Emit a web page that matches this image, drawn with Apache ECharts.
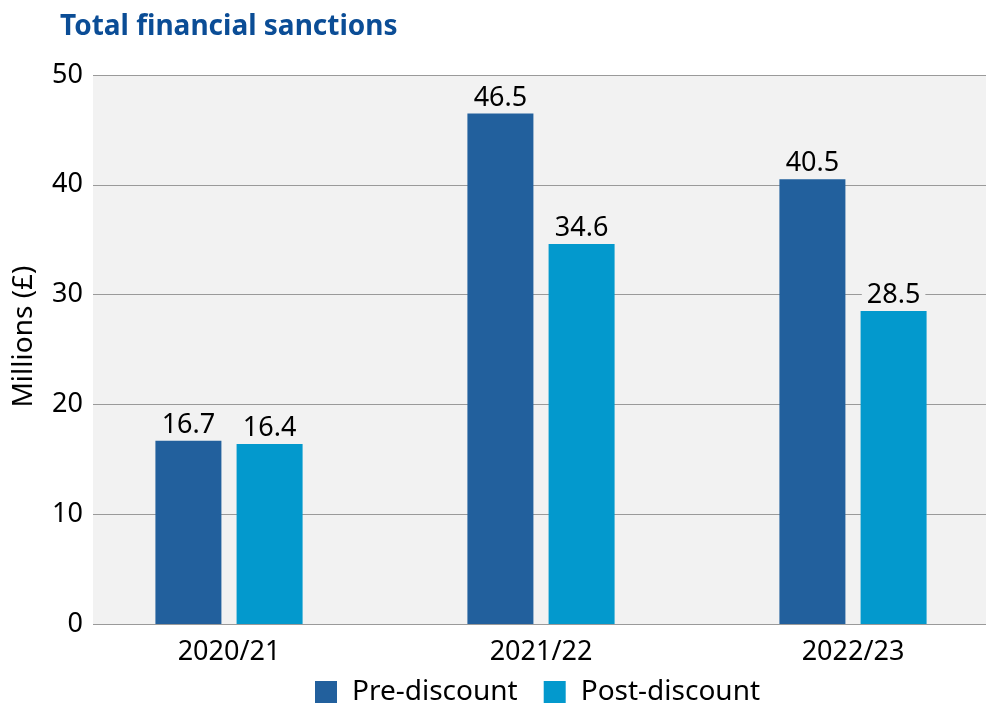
<!DOCTYPE html>
<html>
<head>
<meta charset="utf-8">
<script src="https://cdn.jsdelivr.net/npm/echarts@6/dist/echarts.min.js"></script>
<style>
  html, body { margin: 0; padding: 0; background: #fff; overflow: hidden; }
  #container { width: 986px; height: 703px; }
</style>
</head>
<body>
<div id="container"></div>
<script>
var years = ['2020/21', '2021/22', '2022/23'];
var preDiscount = [16.7, 46.5, 40.5];
var postDiscount = [16.4, 34.6, 28.5];
var yTicks = { min: 0, max: 50, interval: 10 };

var font = '"Noto Sans", "Open Sans", sans-serif';
var dom = document.getElementById('container');
var myChart = echarts.init(dom);

var barLabel = {
    show: true,
    position: 'top',
    distance: 2,
    color: '#000',
    fontFamily: font,
    fontSize: 27,
    backgroundColor: '#f2f2f2',
    padding: [0, 5, 0, 5]
};

var option = {
    backgroundColor: '#fff',
    textStyle: { fontFamily: font },
    title: {
        text: 'Total financial sanctions',
        left: 55,
        top: 8,
        textStyle: { color: '#0b4d96', fontSize: 28, fontWeight: 'bold', fontFamily: font }
    },
    legend: {
        bottom: -8,
        left: 310,
        itemWidth: 22,
        itemHeight: 22,
        itemGap: 26,
        icon: 'rect',
        textStyle: { color: '#000', fontSize: 28, fontFamily: font, padding: [0, 0, 0, 10] },
        data: ['Pre-discount', 'Post-discount']
    },
    grid: [
        // background + value gridlines, runs off the right edge
        { left: 93, width: 920, top: 75, height: 549, show: true, backgroundColor: '#f2f2f2', borderWidth: 0, outerBoundsMode: 'none' },
        // bars (categories spill slightly past the right edge like the original)
        { left: 73, width: 936, top: 75, height: 549, outerBoundsMode: 'none' }
    ],
    xAxis: [
        { gridIndex: 0, type: 'category', data: years, show: false },
        {
            gridIndex: 1,
            type: 'category',
            data: years,
            axisLine: { show: false },
            axisTick: { show: false },
            axisLabel: { color: '#000', fontSize: 27, margin: 15, fontFamily: font }
        }
    ],
    yAxis: [
        {
            gridIndex: 0,
            type: 'value',
            min: yTicks.min,
            max: yTicks.max,
            interval: yTicks.interval,
            name: 'Millions (£)',
            nameLocation: 'middle',
            nameRotate: 90,
            nameGap: 55,
            nameTextStyle: { color: '#000', fontSize: 28, fontFamily: font, padding: [0, 0, 0, 26] },
            axisLine: { show: false },
            axisTick: { show: false },
            axisLabel: { color: '#000', fontSize: 27, margin: 10, fontFamily: font },
            splitLine: { lineStyle: { color: '#9a9a9a', width: 1 } }
        },
        {
            gridIndex: 1,
            type: 'value',
            min: yTicks.min,
            max: yTicks.max,
            interval: yTicks.interval,
            show: false
        }
    ],
    series: [
        {
            name: 'Pre-discount',
            type: 'bar',
            xAxisIndex: 1,
            yAxisIndex: 1,
            barWidth: 66,
            barGap: '23%',
            itemStyle: { color: '#22609d' },
            label: barLabel,
            data: preDiscount
        },
        {
            name: 'Post-discount',
            type: 'bar',
            xAxisIndex: 1,
            yAxisIndex: 1,
            barWidth: 66,
            barGap: '23%',
            itemStyle: { color: '#0399cd' },
            label: barLabel,
            data: postDiscount
        }
    ]
};
myChart.setOption(option);
</script>
</body>
</html>
